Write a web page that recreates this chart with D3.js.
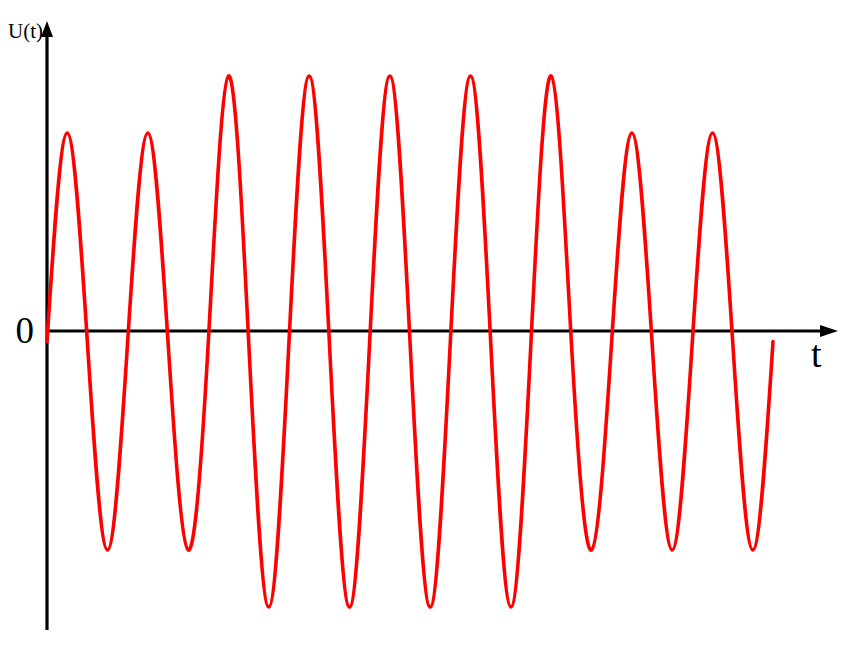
<!DOCTYPE html>
<html>
<head>
<meta charset="utf-8">
<script src="https://cdn.jsdelivr.net/npm/d3@7"></script>
<style>
  html, body { margin: 0; padding: 0; background: #fff; }
  svg { display: block; }
</style>
</head>
<body>
<svg id="chart" width="860" height="650"></svg>
<script>
// ---- data ----
// one entry per cycle of the wave: value at its positive peak and negative trough
const cycles      = [0, 1, 2, 3, 4, 5, 6, 7, 8];
const peakValues  = [1.98, 1.98, 2.55, 2.55, 2.55, 2.55, 2.55, 1.98, 1.98];
const troughValues= [-2.19, -2.19, -2.76, -2.76, -2.76, -2.76, -2.19, -2.19, -2.19];
const crossValue  = -0.105;          // level where the wave crosses its mid line
const tEnd        = 9;               // number of periods drawn
const axisLabels  = { y: "U(t)", x: "t", origin: "0" };

// build the key points (zero, peak, zero, trough) of every cycle
const points = [];
cycles.forEach((c, i) => {
  points.push([c, crossValue]);
  points.push([c + 0.25, peakValues[i]]);
  points.push([c + 0.5, crossValue]);
  points.push([c + 0.75, troughValues[i]]);
});
points.push([tEnd, crossValue]);

// ---- scales ----
const svg = d3.select("#chart");
const x = d3.scaleLinear().domain([0, tEnd]).range([47, 773]);
const y = d3.scaleLinear().domain([-2.99, 3.10]).range([630, 21]);

const xAxisEnd = 838;   // arrow tip of the t axis
const x0 = x(0), y0 = y(0);

// ---- axes ----
const axes = svg.append("g").attr("stroke", "#000").attr("stroke-width", 3.2);
axes.append("line")
  .attr("x1", x0).attr("y1", y0).attr("x2", xAxisEnd - 14).attr("y2", y0);
axes.append("line")
  .attr("x1", x0).attr("y1", y.range()[0]).attr("x2", x0).attr("y2", y.range()[1] + 12);

// arrow heads
svg.append("path")
  .attr("d", d3.line()([[xAxisEnd, y0], [xAxisEnd - 18, y0 - 6], [xAxisEnd - 18, y0 + 6]]) + "Z")
  .attr("fill", "#000");
svg.append("path")
  .attr("d", d3.line()([[x0, y.range()[1]], [x0 - 6, y.range()[1] + 16], [x0 + 6, y.range()[1] + 16]]) + "Z")
  .attr("fill", "#000");

// ---- wave ----
const line = d3.line()
  .x(d => x(d[0]))
  .y(d => y(d[1]))
  .curve(d3.curveNatural);

svg.append("path")
  .datum(points)
  .attr("d", line)
  .attr("fill", "none")
  .attr("stroke", "#ff0000")
  .attr("stroke-width", 3.6)
  .attr("stroke-linejoin", "round")
  .attr("stroke-linecap", "round");

// ---- labels ----
const serif = "'Liberation Serif', 'DejaVu Serif', serif";
svg.append("text")
  .attr("x", 43).attr("y", 38)
  .attr("text-anchor", "end")
  .attr("font-family", serif).attr("font-size", 21)
  .text(axisLabels.y);
svg.append("text")
  .attr("x", 34).attr("y", 343)
  .attr("text-anchor", "end")
  .attr("font-family", serif).attr("font-size", 37)
  .text(axisLabels.origin);
svg.append("text")
  .attr("x", 811).attr("y", 367)
  .attr("font-family", serif).attr("font-size", 38)
  .text(axisLabels.x);
</script>
</body>
</html>
